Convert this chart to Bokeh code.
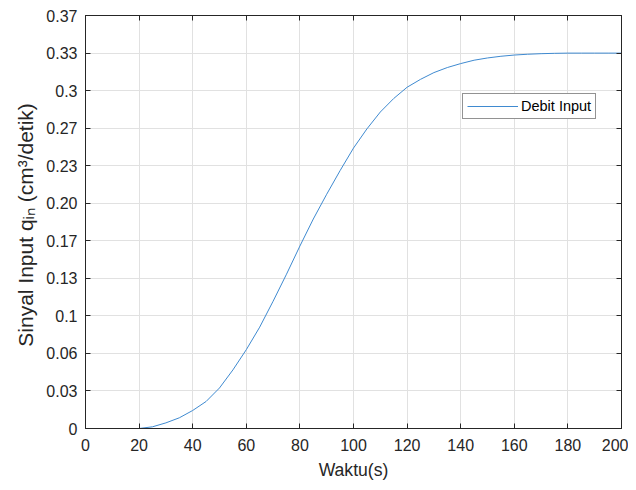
from bokeh.plotting import figure
from bokeh.models import (FixedTicker, LinearAxis, Legend, LegendItem, Range1d)
from bokeh.embed import file_html
from bokeh.resources import INLINE

# ---- data ----
time_s = [0, 5, 10, 15, 20, 25, 30, 35, 40, 45, 50, 55, 60, 65, 70, 75, 80, 85,
          90, 95, 100, 105, 110, 115, 120, 125, 130, 135, 140, 145, 150, 155,
          160, 165, 170, 175, 180, 185, 190, 195, 200]
debit_input = [0, 0, 0, 0, 0, 0.0015, 0.005, 0.0095, 0.016, 0.024, 0.036, 0.052,
               0.070, 0.090, 0.113, 0.137, 0.162, 0.186, 0.208, 0.229, 0.249,
               0.266, 0.281, 0.293, 0.303, 0.310, 0.316, 0.3205, 0.324, 0.327,
               0.329, 0.3305, 0.3316, 0.3323, 0.3328, 0.3331, 0.3333, 0.3333,
               0.3333, 0.3333, 0.3333]

x_ticks = [0, 20, 40, 60, 80, 100, 120, 140, 160, 180, 200]
y_ticks = [0, 0.0333, 0.0667, 0.1, 0.1333, 0.1667, 0.2, 0.2333, 0.2667, 0.3,
           0.3333, 0.3667]
y_tick_labels = ["0", "0.03", "0.06", "0.1", "0.13", "0.17", "0.20", "0.23",
                 "0.27", "0.3", "0.33", "0.37"]

FONT = "Liberation Sans"
AX = "#262626"
BLUE = "#3f8ad0"

p = figure(width=628, height=482, output_backend="svg", toolbar_location=None,
           x_range=Range1d(x_ticks[0], x_ticks[-1]),
           y_range=Range1d(y_ticks[0], y_ticks[-1]),
           min_border_left=85, min_border_right=7, min_border_top=15,
           min_border_bottom=46)
p.background_fill_color = "white"
p.border_fill_color = "white"
p.outline_line_color = AX
p.outline_line_width = 1

line = p.line(time_s, debit_input, line_color=BLUE, line_width=1)

xt = FixedTicker(ticks=x_ticks)
yt = FixedTicker(ticks=y_ticks)
overrides = {y_ticks[i]: y_tick_labels[i] for i in range(len(y_ticks))}

def style_axis(ax, ticker, show_labels=True):
    ax.ticker = ticker
    ax.axis_line_color = AX
    ax.axis_line_width = 1
    ax.major_tick_line_color = AX
    ax.major_tick_in = 5
    ax.major_tick_out = 0
    ax.minor_tick_line_color = None
    ax.major_label_text_font = FONT
    if show_labels:
        ax.major_label_text_font_size = "16px"
        ax.major_label_text_color = AX
    else:
        ax.major_label_text_font_size = "1px"
        ax.major_label_text_color = None
        ax.major_label_standoff = 0

xa = p.xaxis[0]
ya = p.yaxis[0]
style_axis(xa, xt)
style_axis(ya, yt)
ya.major_label_overrides = overrides
xa.major_label_standoff = 10
ya.major_label_standoff = 8

xa.axis_label = "Waktu(s)"
ya.axis_label = "Sinyal Input qᵢₙ  (cm³/detik)"
for ax in (xa, ya):
    ax.axis_label_text_font = FONT
    ax.axis_label_text_font_style = "normal"
    ax.axis_label_text_color = AX
xa.axis_label_text_font_size = "17.6px"
ya.axis_label_text_font_size = "21px"
xa.axis_label_standoff = 6
ya.axis_label_standoff = 6

top = LinearAxis()
right = LinearAxis()
style_axis(top, xt, show_labels=False)
style_axis(right, yt, show_labels=False)
p.add_layout(top, "above")
p.add_layout(right, "right")

p.xgrid.ticker = xt
p.ygrid.ticker = yt
for g in (p.xgrid[0], p.ygrid[0]):
    g.grid_line_color = "#e1e1e1"
    g.grid_line_width = 1

legend = Legend(items=[LegendItem(label="Debit Input", renderers=[line])],
                location=(377, 309))
legend.label_text_font = FONT
legend.label_text_font_size = "14.5px"
legend.label_text_color = "black"
legend.border_line_color = AX
legend.border_line_width = 1
legend.background_fill_color = "white"
legend.background_fill_alpha = 1
legend.padding = 4
legend.margin = 0
legend.spacing = 0
legend.glyph_width = 51
legend.glyph_height = 16
legend.label_height = 16
legend.label_standoff = 3
p.add_layout(legend, "center")

open("out.html", "w").write(file_html(p, INLINE))
